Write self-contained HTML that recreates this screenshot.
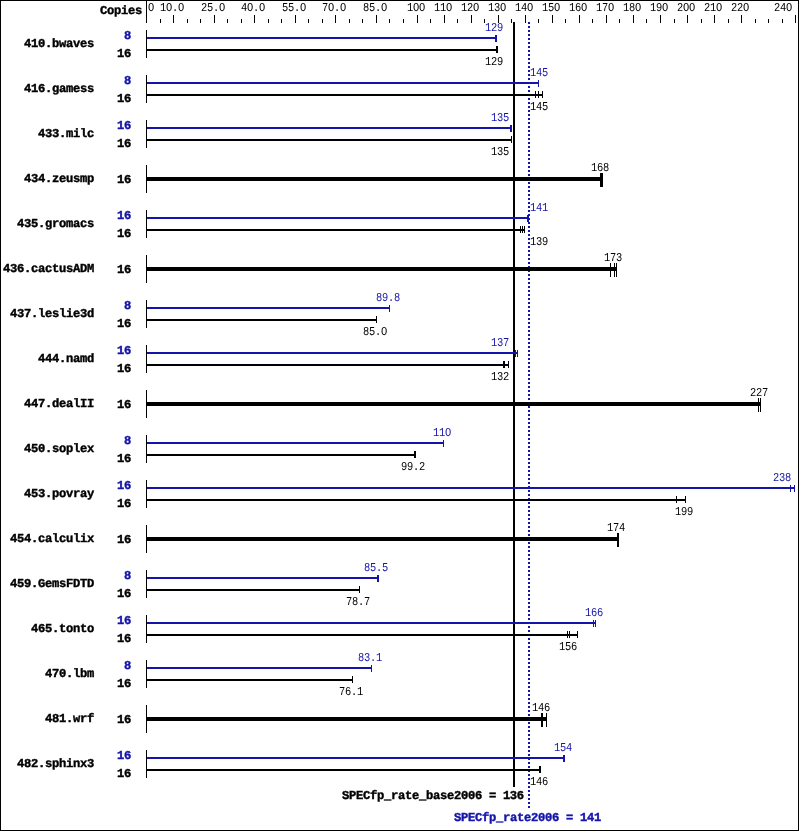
<!DOCTYPE html>
<html><head><meta charset="utf-8"><style>
html,body{margin:0;padding:0;background:#fff;}
svg{display:block;will-change:transform;text-rendering:geometricPrecision;font-family:"Liberation Mono",monospace;}
rect,path{shape-rendering:crispEdges;}
</style></head><body>
<svg width="799" height="831" viewBox="0 0 799 831">
<rect x="0" y="0" width="799" height="831" fill="#fff"/>
<rect x="0" y="0" width="799" height="1" fill="#000"/>
<rect x="0" y="830" width="799" height="1" fill="#000"/>
<rect x="0" y="0" width="1" height="831" fill="#000"/>
<rect x="798" y="0" width="1" height="831" fill="#000"/>
<text x="100" y="14" font-weight="bold" font-size="12.15" letter-spacing="-0.291" fill="#000" stroke="#000" stroke-width="0.4">Copies</text>
<rect x="146" y="1" width="1" height="22" fill="#000"/>
<rect x="160" y="19" width="1" height="4" fill="#000"/>
<rect x="173" y="15" width="1" height="8" fill="#000"/>
<rect x="187" y="19" width="1" height="4" fill="#000"/>
<rect x="200" y="19" width="1" height="4" fill="#000"/>
<rect x="214" y="15" width="1" height="8" fill="#000"/>
<rect x="227" y="19" width="1" height="4" fill="#000"/>
<rect x="241" y="19" width="1" height="4" fill="#000"/>
<rect x="254" y="15" width="1" height="8" fill="#000"/>
<rect x="268" y="19" width="1" height="4" fill="#000"/>
<rect x="281" y="19" width="1" height="4" fill="#000"/>
<rect x="295" y="15" width="1" height="8" fill="#000"/>
<rect x="308" y="19" width="1" height="4" fill="#000"/>
<rect x="322" y="19" width="1" height="4" fill="#000"/>
<rect x="335" y="15" width="1" height="8" fill="#000"/>
<rect x="349" y="19" width="1" height="4" fill="#000"/>
<rect x="362" y="19" width="1" height="4" fill="#000"/>
<rect x="376" y="15" width="1" height="8" fill="#000"/>
<rect x="389" y="19" width="1" height="4" fill="#000"/>
<rect x="403" y="19" width="1" height="4" fill="#000"/>
<rect x="417" y="15" width="1" height="8" fill="#000"/>
<rect x="430" y="19" width="1" height="4" fill="#000"/>
<rect x="444" y="15" width="1" height="8" fill="#000"/>
<rect x="457" y="19" width="1" height="4" fill="#000"/>
<rect x="471" y="15" width="1" height="8" fill="#000"/>
<rect x="484" y="19" width="1" height="4" fill="#000"/>
<rect x="498" y="15" width="1" height="8" fill="#000"/>
<rect x="511" y="19" width="1" height="4" fill="#000"/>
<rect x="525" y="15" width="1" height="8" fill="#000"/>
<rect x="538" y="19" width="1" height="4" fill="#000"/>
<rect x="552" y="15" width="1" height="8" fill="#000"/>
<rect x="565" y="19" width="1" height="4" fill="#000"/>
<rect x="579" y="15" width="1" height="8" fill="#000"/>
<rect x="592" y="19" width="1" height="4" fill="#000"/>
<rect x="606" y="15" width="1" height="8" fill="#000"/>
<rect x="619" y="19" width="1" height="4" fill="#000"/>
<rect x="633" y="15" width="1" height="8" fill="#000"/>
<rect x="646" y="19" width="1" height="4" fill="#000"/>
<rect x="660" y="15" width="1" height="8" fill="#000"/>
<rect x="674" y="19" width="1" height="4" fill="#000"/>
<rect x="687" y="15" width="1" height="8" fill="#000"/>
<rect x="701" y="19" width="1" height="4" fill="#000"/>
<rect x="714" y="15" width="1" height="8" fill="#000"/>
<rect x="728" y="19" width="1" height="4" fill="#000"/>
<rect x="741" y="15" width="1" height="8" fill="#000"/>
<rect x="755" y="19" width="1" height="4" fill="#000"/>
<rect x="768" y="19" width="1" height="4" fill="#000"/>
<rect x="782" y="19" width="1" height="4" fill="#000"/>
<rect x="795" y="15" width="1" height="8" fill="#000"/>
<text transform="translate(148 11) scale(0.86 1)" font-weight="normal" font-size="12.10" letter-spacing="-0.284" fill="#000">O</text>
<text transform="translate(160 11) scale(0.86 1)" font-weight="normal" font-size="12.10" letter-spacing="-0.284" fill="#000">1O.O</text>
<text transform="translate(201 11) scale(0.86 1)" font-weight="normal" font-size="12.10" letter-spacing="-0.284" fill="#000">25.O</text>
<text transform="translate(241 11) scale(0.86 1)" font-weight="normal" font-size="12.10" letter-spacing="-0.284" fill="#000">4O.O</text>
<text transform="translate(282 11) scale(0.86 1)" font-weight="normal" font-size="12.10" letter-spacing="-0.284" fill="#000">55.O</text>
<text transform="translate(322 11) scale(0.86 1)" font-weight="normal" font-size="12.10" letter-spacing="-0.284" fill="#000">7O.O</text>
<text transform="translate(363 11) scale(0.86 1)" font-weight="normal" font-size="12.10" letter-spacing="-0.284" fill="#000">85.O</text>
<text transform="translate(407 11) scale(0.86 1)" font-weight="normal" font-size="12.10" letter-spacing="-0.284" fill="#000">1OO</text>
<text transform="translate(434 11) scale(0.86 1)" font-weight="normal" font-size="12.10" letter-spacing="-0.284" fill="#000">11O</text>
<text transform="translate(461 11) scale(0.86 1)" font-weight="normal" font-size="12.10" letter-spacing="-0.284" fill="#000">12O</text>
<text transform="translate(488 11) scale(0.86 1)" font-weight="normal" font-size="12.10" letter-spacing="-0.284" fill="#000">13O</text>
<text transform="translate(515 11) scale(0.86 1)" font-weight="normal" font-size="12.10" letter-spacing="-0.284" fill="#000">14O</text>
<text transform="translate(542 11) scale(0.86 1)" font-weight="normal" font-size="12.10" letter-spacing="-0.284" fill="#000">15O</text>
<text transform="translate(569 11) scale(0.86 1)" font-weight="normal" font-size="12.10" letter-spacing="-0.284" fill="#000">16O</text>
<text transform="translate(596 11) scale(0.86 1)" font-weight="normal" font-size="12.10" letter-spacing="-0.284" fill="#000">17O</text>
<text transform="translate(623 11) scale(0.86 1)" font-weight="normal" font-size="12.10" letter-spacing="-0.284" fill="#000">18O</text>
<text transform="translate(650 11) scale(0.86 1)" font-weight="normal" font-size="12.10" letter-spacing="-0.284" fill="#000">19O</text>
<text transform="translate(677 11) scale(0.86 1)" font-weight="normal" font-size="12.10" letter-spacing="-0.284" fill="#000">2OO</text>
<text transform="translate(704 11) scale(0.86 1)" font-weight="normal" font-size="12.10" letter-spacing="-0.284" fill="#000">21O</text>
<text transform="translate(731 11) scale(0.86 1)" font-weight="normal" font-size="12.10" letter-spacing="-0.284" fill="#000">22O</text>
<text transform="translate(774 11) scale(0.86 1)" font-weight="normal" font-size="12.10" letter-spacing="-0.284" fill="#000">24O</text>
<rect x="513" y="22" width="2" height="765" fill="#000"/>
<path d="M528 22h2v2h-2zM528 26h2v2h-2zM528 30h2v2h-2zM528 34h2v2h-2zM528 38h2v2h-2zM528 42h2v2h-2zM528 46h2v2h-2zM528 50h2v2h-2zM528 54h2v2h-2zM528 58h2v2h-2zM528 62h2v2h-2zM528 66h2v2h-2zM528 70h2v2h-2zM528 74h2v2h-2zM528 78h2v2h-2zM528 82h2v2h-2zM528 86h2v2h-2zM528 90h2v2h-2zM528 94h2v2h-2zM528 98h2v2h-2zM528 102h2v2h-2zM528 106h2v2h-2zM528 110h2v2h-2zM528 114h2v2h-2zM528 118h2v2h-2zM528 122h2v2h-2zM528 126h2v2h-2zM528 130h2v2h-2zM528 134h2v2h-2zM528 138h2v2h-2zM528 142h2v2h-2zM528 146h2v2h-2zM528 150h2v2h-2zM528 154h2v2h-2zM528 158h2v2h-2zM528 162h2v2h-2zM528 166h2v2h-2zM528 170h2v2h-2zM528 174h2v2h-2zM528 178h2v2h-2zM528 182h2v2h-2zM528 186h2v2h-2zM528 190h2v2h-2zM528 194h2v2h-2zM528 198h2v2h-2zM528 202h2v2h-2zM528 206h2v2h-2zM528 210h2v2h-2zM528 214h2v2h-2zM528 218h2v2h-2zM528 222h2v2h-2zM528 226h2v2h-2zM528 230h2v2h-2zM528 234h2v2h-2zM528 238h2v2h-2zM528 242h2v2h-2zM528 246h2v2h-2zM528 250h2v2h-2zM528 254h2v2h-2zM528 258h2v2h-2zM528 262h2v2h-2zM528 266h2v2h-2zM528 270h2v2h-2zM528 274h2v2h-2zM528 278h2v2h-2zM528 282h2v2h-2zM528 286h2v2h-2zM528 290h2v2h-2zM528 294h2v2h-2zM528 298h2v2h-2zM528 302h2v2h-2zM528 306h2v2h-2zM528 310h2v2h-2zM528 314h2v2h-2zM528 318h2v2h-2zM528 322h2v2h-2zM528 326h2v2h-2zM528 330h2v2h-2zM528 334h2v2h-2zM528 338h2v2h-2zM528 342h2v2h-2zM528 346h2v2h-2zM528 350h2v2h-2zM528 354h2v2h-2zM528 358h2v2h-2zM528 362h2v2h-2zM528 366h2v2h-2zM528 370h2v2h-2zM528 374h2v2h-2zM528 378h2v2h-2zM528 382h2v2h-2zM528 386h2v2h-2zM528 390h2v2h-2zM528 394h2v2h-2zM528 398h2v2h-2zM528 402h2v2h-2zM528 406h2v2h-2zM528 410h2v2h-2zM528 414h2v2h-2zM528 418h2v2h-2zM528 422h2v2h-2zM528 426h2v2h-2zM528 430h2v2h-2zM528 434h2v2h-2zM528 438h2v2h-2zM528 442h2v2h-2zM528 446h2v2h-2zM528 450h2v2h-2zM528 454h2v2h-2zM528 458h2v2h-2zM528 462h2v2h-2zM528 466h2v2h-2zM528 470h2v2h-2zM528 474h2v2h-2zM528 478h2v2h-2zM528 482h2v2h-2zM528 486h2v2h-2zM528 490h2v2h-2zM528 494h2v2h-2zM528 498h2v2h-2zM528 502h2v2h-2zM528 506h2v2h-2zM528 510h2v2h-2zM528 514h2v2h-2zM528 518h2v2h-2zM528 522h2v2h-2zM528 526h2v2h-2zM528 530h2v2h-2zM528 534h2v2h-2zM528 538h2v2h-2zM528 542h2v2h-2zM528 546h2v2h-2zM528 550h2v2h-2zM528 554h2v2h-2zM528 558h2v2h-2zM528 562h2v2h-2zM528 566h2v2h-2zM528 570h2v2h-2zM528 574h2v2h-2zM528 578h2v2h-2zM528 582h2v2h-2zM528 586h2v2h-2zM528 590h2v2h-2zM528 594h2v2h-2zM528 598h2v2h-2zM528 602h2v2h-2zM528 606h2v2h-2zM528 610h2v2h-2zM528 614h2v2h-2zM528 618h2v2h-2zM528 622h2v2h-2zM528 626h2v2h-2zM528 630h2v2h-2zM528 634h2v2h-2zM528 638h2v2h-2zM528 642h2v2h-2zM528 646h2v2h-2zM528 650h2v2h-2zM528 654h2v2h-2zM528 658h2v2h-2zM528 662h2v2h-2zM528 666h2v2h-2zM528 670h2v2h-2zM528 674h2v2h-2zM528 678h2v2h-2zM528 682h2v2h-2zM528 686h2v2h-2zM528 690h2v2h-2zM528 694h2v2h-2zM528 698h2v2h-2zM528 702h2v2h-2zM528 706h2v2h-2zM528 710h2v2h-2zM528 714h2v2h-2zM528 718h2v2h-2zM528 722h2v2h-2zM528 726h2v2h-2zM528 730h2v2h-2zM528 734h2v2h-2zM528 738h2v2h-2zM528 742h2v2h-2zM528 746h2v2h-2zM528 750h2v2h-2zM528 754h2v2h-2zM528 758h2v2h-2zM528 762h2v2h-2zM528 766h2v2h-2zM528 770h2v2h-2zM528 774h2v2h-2zM528 778h2v2h-2zM528 782h2v2h-2zM528 786h2v2h-2zM528 790h2v2h-2zM528 794h2v2h-2zM528 798h2v2h-2zM528 802h2v2h-2zM528 806h2v2h-2z" fill="#1414aa"/>
<rect x="146" y="30" width="1" height="28" fill="#000"/>
<text x="94" y="47" font-weight="bold" font-size="12.15" letter-spacing="-0.291" fill="#000" stroke="#000" stroke-width="0.4" text-anchor="end">410.bwaves</text>
<rect x="147" y="37" width="350" height="2" fill="#1414aa"/>
<rect x="495" y="35" width="1" height="7" fill="#1414aa"/>
<rect x="496" y="35" width="1" height="7" fill="#1414aa"/>
<text x="131" y="39" font-weight="bold" font-size="12.15" letter-spacing="-0.291" fill="#1414aa" stroke="#1414aa" stroke-width="0.4" text-anchor="end">8</text>
<text transform="translate(485 31) scale(0.86 1)" font-weight="normal" font-size="12.10" letter-spacing="-0.284" fill="#1414aa">129</text>
<rect x="147" y="49" width="351" height="2" fill="#000"/>
<rect x="496" y="46" width="1" height="7" fill="#000"/>
<rect x="497" y="46" width="1" height="7" fill="#000"/>
<text x="131" y="57" font-weight="bold" font-size="12.15" letter-spacing="-0.291" fill="#000" stroke="#000" stroke-width="0.4" text-anchor="end">16</text>
<text transform="translate(485 65) scale(0.86 1)" font-weight="normal" font-size="12.10" letter-spacing="-0.284" fill="#000">129</text>
<rect x="146" y="75" width="1" height="28" fill="#000"/>
<text x="94" y="92" font-weight="bold" font-size="12.15" letter-spacing="-0.291" fill="#000" stroke="#000" stroke-width="0.4" text-anchor="end">416.gamess</text>
<rect x="147" y="82" width="392" height="2" fill="#1414aa"/>
<rect x="538" y="80" width="1" height="7" fill="#1414aa"/>
<text x="131" y="84" font-weight="bold" font-size="12.15" letter-spacing="-0.291" fill="#1414aa" stroke="#1414aa" stroke-width="0.4" text-anchor="end">8</text>
<text transform="translate(530 76) scale(0.86 1)" font-weight="normal" font-size="12.10" letter-spacing="-0.284" fill="#1414aa">145</text>
<rect x="147" y="94" width="396" height="2" fill="#000"/>
<rect x="535" y="91" width="1" height="7" fill="#000"/>
<rect x="538" y="91" width="1" height="7" fill="#000"/>
<rect x="542" y="91" width="1" height="7" fill="#000"/>
<text x="131" y="102" font-weight="bold" font-size="12.15" letter-spacing="-0.291" fill="#000" stroke="#000" stroke-width="0.4" text-anchor="end">16</text>
<text transform="translate(530 110) scale(0.86 1)" font-weight="normal" font-size="12.10" letter-spacing="-0.284" fill="#000">145</text>
<rect x="146" y="120" width="1" height="28" fill="#000"/>
<text x="94" y="137" font-weight="bold" font-size="12.15" letter-spacing="-0.291" fill="#000" stroke="#000" stroke-width="0.4" text-anchor="end">433.milc</text>
<rect x="147" y="127" width="365" height="2" fill="#1414aa"/>
<rect x="510" y="125" width="1" height="7" fill="#1414aa"/>
<rect x="511" y="125" width="1" height="7" fill="#1414aa"/>
<text x="131" y="129" font-weight="bold" font-size="12.15" letter-spacing="-0.291" fill="#1414aa" stroke="#1414aa" stroke-width="0.4" text-anchor="end">16</text>
<text transform="translate(491 121) scale(0.86 1)" font-weight="normal" font-size="12.10" letter-spacing="-0.284" fill="#1414aa">135</text>
<rect x="147" y="139" width="365" height="2" fill="#000"/>
<rect x="511" y="136" width="1" height="7" fill="#000"/>
<text x="131" y="147" font-weight="bold" font-size="12.15" letter-spacing="-0.291" fill="#000" stroke="#000" stroke-width="0.4" text-anchor="end">16</text>
<text transform="translate(491 155) scale(0.86 1)" font-weight="normal" font-size="12.10" letter-spacing="-0.284" fill="#000">135</text>
<rect x="146" y="165" width="1" height="28" fill="#000"/>
<text x="94" y="182" font-weight="bold" font-size="12.15" letter-spacing="-0.291" fill="#000" stroke="#000" stroke-width="0.4" text-anchor="end">434.zeusmp</text>
<rect x="147" y="177" width="456" height="4" fill="#000"/>
<rect x="600" y="173" width="1" height="14" fill="#000"/>
<rect x="601" y="173" width="1" height="14" fill="#000"/>
<rect x="602" y="173" width="1" height="14" fill="#000"/>
<text x="131" y="183" font-weight="bold" font-size="12.15" letter-spacing="-0.291" fill="#000" stroke="#000" stroke-width="0.4" text-anchor="end">16</text>
<text transform="translate(591 171) scale(0.86 1)" font-weight="normal" font-size="12.10" letter-spacing="-0.284" fill="#000">168</text>
<rect x="146" y="210" width="1" height="28" fill="#000"/>
<text x="94" y="227" font-weight="bold" font-size="12.15" letter-spacing="-0.291" fill="#000" stroke="#000" stroke-width="0.4" text-anchor="end">435.gromacs</text>
<rect x="147" y="217" width="382" height="2" fill="#1414aa"/>
<rect x="527" y="215" width="1" height="7" fill="#1414aa"/>
<rect x="528" y="215" width="1" height="7" fill="#1414aa"/>
<text x="131" y="219" font-weight="bold" font-size="12.15" letter-spacing="-0.291" fill="#1414aa" stroke="#1414aa" stroke-width="0.4" text-anchor="end">16</text>
<text transform="translate(530 211) scale(0.86 1)" font-weight="normal" font-size="12.10" letter-spacing="-0.284" fill="#1414aa">141</text>
<rect x="147" y="229" width="378" height="2" fill="#000"/>
<rect x="520" y="226" width="1" height="7" fill="#000"/>
<rect x="522" y="226" width="1" height="7" fill="#000"/>
<rect x="524" y="226" width="1" height="7" fill="#000"/>
<text x="131" y="237" font-weight="bold" font-size="12.15" letter-spacing="-0.291" fill="#000" stroke="#000" stroke-width="0.4" text-anchor="end">16</text>
<text transform="translate(530 245) scale(0.86 1)" font-weight="normal" font-size="12.10" letter-spacing="-0.284" fill="#000">139</text>
<rect x="146" y="255" width="1" height="28" fill="#000"/>
<text x="94" y="272" font-weight="bold" font-size="12.15" letter-spacing="-0.291" fill="#000" stroke="#000" stroke-width="0.4" text-anchor="end">436.cactusADM</text>
<rect x="147" y="267" width="470" height="4" fill="#000"/>
<rect x="610" y="263" width="1" height="14" fill="#000"/>
<rect x="614" y="263" width="1" height="14" fill="#000"/>
<rect x="616" y="263" width="1" height="14" fill="#000"/>
<text x="131" y="273" font-weight="bold" font-size="12.15" letter-spacing="-0.291" fill="#000" stroke="#000" stroke-width="0.4" text-anchor="end">16</text>
<text transform="translate(604 261) scale(0.86 1)" font-weight="normal" font-size="12.10" letter-spacing="-0.284" fill="#000">173</text>
<rect x="146" y="300" width="1" height="28" fill="#000"/>
<text x="94" y="317" font-weight="bold" font-size="12.15" letter-spacing="-0.291" fill="#000" stroke="#000" stroke-width="0.4" text-anchor="end">437.leslie3d</text>
<rect x="147" y="307" width="243" height="2" fill="#1414aa"/>
<rect x="389" y="305" width="1" height="7" fill="#1414aa"/>
<text x="131" y="309" font-weight="bold" font-size="12.15" letter-spacing="-0.291" fill="#1414aa" stroke="#1414aa" stroke-width="0.4" text-anchor="end">8</text>
<text transform="translate(376 301) scale(0.86 1)" font-weight="normal" font-size="12.10" letter-spacing="-0.284" fill="#1414aa">89.8</text>
<rect x="147" y="319" width="230" height="2" fill="#000"/>
<rect x="376" y="316" width="1" height="7" fill="#000"/>
<text x="131" y="327" font-weight="bold" font-size="12.15" letter-spacing="-0.291" fill="#000" stroke="#000" stroke-width="0.4" text-anchor="end">16</text>
<text transform="translate(363 335) scale(0.86 1)" font-weight="normal" font-size="12.10" letter-spacing="-0.284" fill="#000">85.O</text>
<rect x="146" y="345" width="1" height="28" fill="#000"/>
<text x="94" y="362" font-weight="bold" font-size="12.15" letter-spacing="-0.291" fill="#000" stroke="#000" stroke-width="0.4" text-anchor="end">444.namd</text>
<rect x="147" y="352" width="371" height="2" fill="#1414aa"/>
<rect x="515" y="350" width="1" height="7" fill="#1414aa"/>
<rect x="517" y="350" width="1" height="7" fill="#1414aa"/>
<text x="131" y="354" font-weight="bold" font-size="12.15" letter-spacing="-0.291" fill="#1414aa" stroke="#1414aa" stroke-width="0.4" text-anchor="end">16</text>
<text transform="translate(491 346) scale(0.86 1)" font-weight="normal" font-size="12.10" letter-spacing="-0.284" fill="#1414aa">137</text>
<rect x="147" y="364" width="362" height="2" fill="#000"/>
<rect x="503" y="361" width="1" height="7" fill="#000"/>
<rect x="504" y="361" width="1" height="7" fill="#000"/>
<rect x="508" y="361" width="1" height="7" fill="#000"/>
<text x="131" y="372" font-weight="bold" font-size="12.15" letter-spacing="-0.291" fill="#000" stroke="#000" stroke-width="0.4" text-anchor="end">16</text>
<text transform="translate(491 380) scale(0.86 1)" font-weight="normal" font-size="12.10" letter-spacing="-0.284" fill="#000">132</text>
<rect x="146" y="390" width="1" height="28" fill="#000"/>
<text x="94" y="407" font-weight="bold" font-size="12.15" letter-spacing="-0.291" fill="#000" stroke="#000" stroke-width="0.4" text-anchor="end">447.dealII</text>
<rect x="147" y="402" width="614" height="4" fill="#000"/>
<rect x="758" y="398" width="1" height="14" fill="#000"/>
<rect x="760" y="398" width="1" height="14" fill="#000"/>
<text x="131" y="408" font-weight="bold" font-size="12.15" letter-spacing="-0.291" fill="#000" stroke="#000" stroke-width="0.4" text-anchor="end">16</text>
<text transform="translate(750 396) scale(0.86 1)" font-weight="normal" font-size="12.10" letter-spacing="-0.284" fill="#000">227</text>
<rect x="146" y="435" width="1" height="28" fill="#000"/>
<text x="94" y="452" font-weight="bold" font-size="12.15" letter-spacing="-0.291" fill="#000" stroke="#000" stroke-width="0.4" text-anchor="end">450.soplex</text>
<rect x="147" y="442" width="297" height="2" fill="#1414aa"/>
<rect x="443" y="440" width="1" height="7" fill="#1414aa"/>
<text x="131" y="444" font-weight="bold" font-size="12.15" letter-spacing="-0.291" fill="#1414aa" stroke="#1414aa" stroke-width="0.4" text-anchor="end">8</text>
<text transform="translate(433 436) scale(0.86 1)" font-weight="normal" font-size="12.10" letter-spacing="-0.284" fill="#1414aa">11O</text>
<rect x="147" y="454" width="269" height="2" fill="#000"/>
<rect x="414" y="451" width="1" height="7" fill="#000"/>
<rect x="415" y="451" width="1" height="7" fill="#000"/>
<text x="131" y="462" font-weight="bold" font-size="12.15" letter-spacing="-0.291" fill="#000" stroke="#000" stroke-width="0.4" text-anchor="end">16</text>
<text transform="translate(401 470) scale(0.86 1)" font-weight="normal" font-size="12.10" letter-spacing="-0.284" fill="#000">99.2</text>
<rect x="146" y="480" width="1" height="28" fill="#000"/>
<text x="94" y="497" font-weight="bold" font-size="12.15" letter-spacing="-0.291" fill="#000" stroke="#000" stroke-width="0.4" text-anchor="end">453.povray</text>
<rect x="147" y="487" width="648" height="2" fill="#1414aa"/>
<rect x="790" y="485" width="1" height="7" fill="#1414aa"/>
<rect x="794" y="485" width="1" height="7" fill="#1414aa"/>
<text x="131" y="489" font-weight="bold" font-size="12.15" letter-spacing="-0.291" fill="#1414aa" stroke="#1414aa" stroke-width="0.4" text-anchor="end">16</text>
<text transform="translate(773 481) scale(0.86 1)" font-weight="normal" font-size="12.10" letter-spacing="-0.284" fill="#1414aa">238</text>
<rect x="147" y="499" width="539" height="2" fill="#000"/>
<rect x="676" y="496" width="1" height="7" fill="#000"/>
<rect x="685" y="496" width="1" height="7" fill="#000"/>
<text x="131" y="507" font-weight="bold" font-size="12.15" letter-spacing="-0.291" fill="#000" stroke="#000" stroke-width="0.4" text-anchor="end">16</text>
<text transform="translate(675 515) scale(0.86 1)" font-weight="normal" font-size="12.10" letter-spacing="-0.284" fill="#000">199</text>
<rect x="146" y="525" width="1" height="28" fill="#000"/>
<text x="94" y="542" font-weight="bold" font-size="12.15" letter-spacing="-0.291" fill="#000" stroke="#000" stroke-width="0.4" text-anchor="end">454.calculix</text>
<rect x="147" y="537" width="472" height="4" fill="#000"/>
<rect x="617" y="533" width="1" height="14" fill="#000"/>
<rect x="618" y="533" width="1" height="14" fill="#000"/>
<text x="131" y="543" font-weight="bold" font-size="12.15" letter-spacing="-0.291" fill="#000" stroke="#000" stroke-width="0.4" text-anchor="end">16</text>
<text transform="translate(607 531) scale(0.86 1)" font-weight="normal" font-size="12.10" letter-spacing="-0.284" fill="#000">174</text>
<rect x="146" y="570" width="1" height="28" fill="#000"/>
<text x="94" y="587" font-weight="bold" font-size="12.15" letter-spacing="-0.291" fill="#000" stroke="#000" stroke-width="0.4" text-anchor="end">459.GemsFDTD</text>
<rect x="147" y="577" width="232" height="2" fill="#1414aa"/>
<rect x="377" y="575" width="1" height="7" fill="#1414aa"/>
<rect x="378" y="575" width="1" height="7" fill="#1414aa"/>
<text x="131" y="579" font-weight="bold" font-size="12.15" letter-spacing="-0.291" fill="#1414aa" stroke="#1414aa" stroke-width="0.4" text-anchor="end">8</text>
<text transform="translate(364 571) scale(0.86 1)" font-weight="normal" font-size="12.10" letter-spacing="-0.284" fill="#1414aa">85.5</text>
<rect x="147" y="589" width="213" height="2" fill="#000"/>
<rect x="359" y="586" width="1" height="7" fill="#000"/>
<text x="131" y="597" font-weight="bold" font-size="12.15" letter-spacing="-0.291" fill="#000" stroke="#000" stroke-width="0.4" text-anchor="end">16</text>
<text transform="translate(346 605) scale(0.86 1)" font-weight="normal" font-size="12.10" letter-spacing="-0.284" fill="#000">78.7</text>
<rect x="146" y="615" width="1" height="28" fill="#000"/>
<text x="94" y="632" font-weight="bold" font-size="12.15" letter-spacing="-0.291" fill="#000" stroke="#000" stroke-width="0.4" text-anchor="end">465.tonto</text>
<rect x="147" y="622" width="449" height="2" fill="#1414aa"/>
<rect x="593" y="620" width="1" height="7" fill="#1414aa"/>
<rect x="595" y="620" width="1" height="7" fill="#1414aa"/>
<text x="131" y="624" font-weight="bold" font-size="12.15" letter-spacing="-0.291" fill="#1414aa" stroke="#1414aa" stroke-width="0.4" text-anchor="end">16</text>
<text transform="translate(585 616) scale(0.86 1)" font-weight="normal" font-size="12.10" letter-spacing="-0.284" fill="#1414aa">166</text>
<rect x="147" y="634" width="431" height="2" fill="#000"/>
<rect x="567" y="631" width="1" height="7" fill="#000"/>
<rect x="569" y="631" width="1" height="7" fill="#000"/>
<rect x="577" y="631" width="1" height="7" fill="#000"/>
<text x="131" y="642" font-weight="bold" font-size="12.15" letter-spacing="-0.291" fill="#000" stroke="#000" stroke-width="0.4" text-anchor="end">16</text>
<text transform="translate(559 650) scale(0.86 1)" font-weight="normal" font-size="12.10" letter-spacing="-0.284" fill="#000">156</text>
<rect x="146" y="660" width="1" height="28" fill="#000"/>
<text x="94" y="677" font-weight="bold" font-size="12.15" letter-spacing="-0.291" fill="#000" stroke="#000" stroke-width="0.4" text-anchor="end">470.lbm</text>
<rect x="147" y="667" width="225" height="2" fill="#1414aa"/>
<rect x="371" y="665" width="1" height="7" fill="#1414aa"/>
<text x="131" y="669" font-weight="bold" font-size="12.15" letter-spacing="-0.291" fill="#1414aa" stroke="#1414aa" stroke-width="0.4" text-anchor="end">8</text>
<text transform="translate(358 661) scale(0.86 1)" font-weight="normal" font-size="12.10" letter-spacing="-0.284" fill="#1414aa">83.1</text>
<rect x="147" y="679" width="206" height="2" fill="#000"/>
<rect x="352" y="676" width="1" height="7" fill="#000"/>
<text x="131" y="687" font-weight="bold" font-size="12.15" letter-spacing="-0.291" fill="#000" stroke="#000" stroke-width="0.4" text-anchor="end">16</text>
<text transform="translate(339 695) scale(0.86 1)" font-weight="normal" font-size="12.10" letter-spacing="-0.284" fill="#000">76.1</text>
<rect x="146" y="705" width="1" height="28" fill="#000"/>
<text x="94" y="722" font-weight="bold" font-size="12.15" letter-spacing="-0.291" fill="#000" stroke="#000" stroke-width="0.4" text-anchor="end">481.wrf</text>
<rect x="147" y="717" width="400" height="4" fill="#000"/>
<rect x="541" y="713" width="1" height="14" fill="#000"/>
<rect x="542" y="713" width="1" height="14" fill="#000"/>
<rect x="546" y="713" width="1" height="14" fill="#000"/>
<text x="131" y="723" font-weight="bold" font-size="12.15" letter-spacing="-0.291" fill="#000" stroke="#000" stroke-width="0.4" text-anchor="end">16</text>
<text transform="translate(532 711) scale(0.86 1)" font-weight="normal" font-size="12.10" letter-spacing="-0.284" fill="#000">146</text>
<rect x="146" y="750" width="1" height="28" fill="#000"/>
<text x="94" y="767" font-weight="bold" font-size="12.15" letter-spacing="-0.291" fill="#000" stroke="#000" stroke-width="0.4" text-anchor="end">482.sphinx3</text>
<rect x="147" y="757" width="418" height="2" fill="#1414aa"/>
<rect x="563" y="755" width="1" height="7" fill="#1414aa"/>
<rect x="564" y="755" width="1" height="7" fill="#1414aa"/>
<text x="131" y="759" font-weight="bold" font-size="12.15" letter-spacing="-0.291" fill="#1414aa" stroke="#1414aa" stroke-width="0.4" text-anchor="end">16</text>
<text transform="translate(554 751) scale(0.86 1)" font-weight="normal" font-size="12.10" letter-spacing="-0.284" fill="#1414aa">154</text>
<rect x="147" y="769" width="394" height="2" fill="#000"/>
<rect x="539" y="766" width="1" height="7" fill="#000"/>
<rect x="540" y="766" width="1" height="7" fill="#000"/>
<text x="131" y="777" font-weight="bold" font-size="12.15" letter-spacing="-0.291" fill="#000" stroke="#000" stroke-width="0.4" text-anchor="end">16</text>
<text transform="translate(530 785) scale(0.86 1)" font-weight="normal" font-size="12.10" letter-spacing="-0.284" fill="#000">146</text>
<text x="342" y="799" font-weight="bold" font-size="12.15" letter-spacing="-0.291" fill="#000" stroke="#000" stroke-width="0.4">SPECfp_rate_base2006 = 136</text>
<text x="454" y="821" font-weight="bold" font-size="12.15" letter-spacing="-0.291" fill="#1414aa" stroke="#1414aa" stroke-width="0.4">SPECfp_rate2006 = 141</text>
</svg>
</body></html>
